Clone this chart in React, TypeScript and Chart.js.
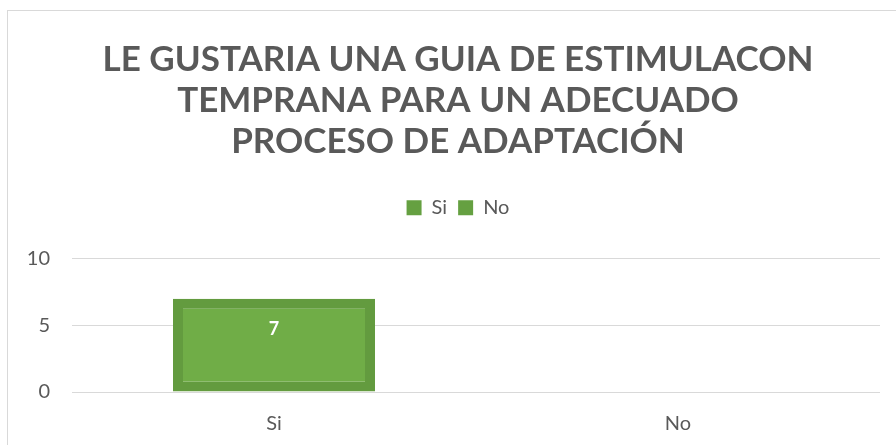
import React, { useEffect, useRef } from 'react';
import { Chart, registerables } from 'chart.js';

Chart.register(...registerables);

const titleLines = ['LE GUSTARIA UNA GUIA DE ESTIMULACON', 'TEMPRANA PARA UN ADECUADO', 'PROCESO DE ADAPTACIÓN'];
const categories = ['Si', 'No'];
const values = [7, 0];
const yMin = 0;
const yMax = 10;
const yStep = 5;

const FONT = 'Lato, "Open Sans", sans-serif';
const TEXT = '#595959';
const FILL = '#70ad47';
const EDGE = '#639b3f';

const legendSpacer = {
  id: 'legendSpacer',
  beforeInit(chart: any) {
    const orig = chart.legend.fit;
    chart.legend.fit = function fit() {
      orig.bind(chart.legend)();
      this.height += 31;
    };
  },
};

const valueLabels = {
  id: 'valueLabels',
  afterDatasetsDraw(chart: any) {
    const ctx = chart.ctx;
    const meta = chart.getDatasetMeta(0);
    meta.data.forEach((bar: any, i: number) => {
      const v = values[i];
      if (!v) return;
      ctx.save();
      ctx.fillStyle = '#ffffff';
      ctx.font = `bold 18px ${FONT}`;
      ctx.textAlign = 'center';
      ctx.textBaseline = 'middle';
      ctx.fillText(String(v), bar.x, bar.y + 30);
      ctx.restore();
    });
  },
};

export default function App() {
  const ref = useRef<HTMLCanvasElement>(null);

  useEffect(() => {
    if (!ref.current) return;
    const chart = new Chart(ref.current, {
      type: 'bar',
      data: {
        labels: categories,
        datasets: [
          {
            label: 'Respuestas',
            data: values,
            backgroundColor: FILL,
            borderColor: EDGE,
            borderWidth: 10,
            borderSkipped: false,
            barPercentage: 0.5,
            categoryPercentage: 1,
          },
        ],
      },
      options: {
        responsive: false,
        animation: false,
        devicePixelRatio: 1,
        layout: { padding: 0 },
        plugins: {
          title: {
            display: true,
            text: titleLines,
            color: TEXT,
            font: { family: FONT, size: 35, weight: 'bold', lineHeight: 1.17 },
            padding: { top: 28, bottom: 25 },
          },
          legend: {
            display: true,
            position: 'top',
            labels: {
              color: TEXT,
              font: { family: FONT, size: 20 },
              boxWidth: 15,
              boxHeight: 15,
              padding: 11,
              generateLabels: (chart: any) =>
                chart.data.labels.map((l: string, i: number) => ({
                  text: l,
                  fillStyle: '#65a041',
                  strokeStyle: 'rgba(0,0,0,0)',
                  lineWidth: 0,
                  fontColor: TEXT,
                  hidden: false,
                  index: i,
                  datasetIndex: 0,
                })),
            },
          },
          tooltip: { enabled: false },
        },
        scales: {
          x: {
            grid: { display: false, drawTicks: false },
            border: { display: false },
            ticks: { color: TEXT, font: { family: FONT, size: 20 }, padding: 20 },
            afterFit: (s: any) => {
              s.height = 53;
            },
          },
          y: {
            min: yMin,
            max: yMax,
            ticks: { stepSize: yStep, color: TEXT, font: { family: FONT, size: 20 }, padding: 22 },
            grid: { color: '#d9d9d9', lineWidth: 1, drawTicks: false },
            border: { display: false },
            afterFit: (s: any) => {
              s.width = 64;
            },
          },
          yRight: {
            type: 'linear',
            position: 'right',
            display: true,
            grid: { display: false, drawTicks: false },
            border: { display: false },
            ticks: { display: false },
            afterFit: (s: any) => {
              s.width = 28;
            },
          },
        },
      },
      plugins: [legendSpacer, valueLabels],
    } as any);
    return () => chart.destroy();
  }, []);

  return (
    <div
      style={{
        position: 'absolute',
        left: 7,
        top: 10,
        width: 889,
        height: 435,
        borderLeft: '1px solid #d9d9d9',
        borderTop: '1px solid #d9d9d9',
        boxSizing: 'border-box',
        overflow: 'hidden',
        background: '#ffffff',
      }}
    >
      <canvas ref={ref} width={900} height={434} style={{ display: 'block', width: 900, height: 434 }} />
    </div>
  );
}
